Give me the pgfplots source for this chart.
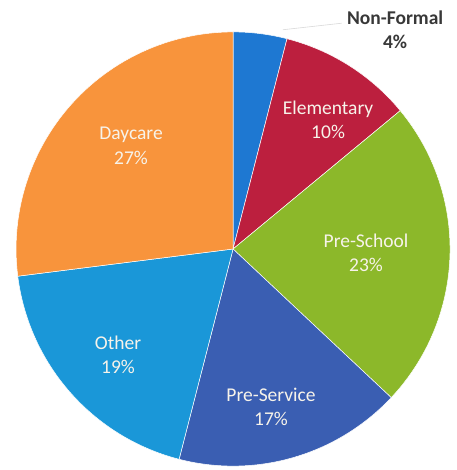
\documentclass[border=0pt]{standalone}
\usepackage{pgfplots}
\pgfplotsset{compat=1.18}
\usepackage{fontspec}
\setmainfont{Carlito}

\definecolor{cNonFormal}{HTML}{1E78D2}
\definecolor{cElementary}{HTML}{BC1F3E}
\definecolor{cPreSchool}{HTML}{8CB82A}
\definecolor{cPreService}{HTML}{3A5EB2}
\definecolor{cOther}{HTML}{1A97D8}
\definecolor{cDaycare}{HTML}{F8943C}
\definecolor{lbl}{HTML}{F7F3EA}

\begin{document}
\begin{tikzpicture}[
    lab/.style={font=\fontsize{19.5}{24.5}\selectfont, align=center, text=lbl},
]
\begin{axis}[
    hide axis,
    scale only axis,
    width=457pt, height=470pt,
    xmin=-1.074, xmax=1.032,
    ymin=-1.018, ymax=1.147,
    clip=false,
    samples=60,
    every axis plot/.append style={draw=white, line width=0.5pt},
]
\path (rel axis cs:0,0) rectangle (rel axis cs:1,1);
% slices, clockwise from the top; domain = cumulative percent
\addplot[fill=cNonFormal,  domain=0:4]   ({sin(3.6*x)},{cos(3.6*x)}) -- (axis cs:0,0) -- cycle;
\addplot[fill=cElementary, domain=4:14]  ({sin(3.6*x)},{cos(3.6*x)}) -- (axis cs:0,0) -- cycle;
\addplot[fill=cPreSchool,  domain=14:37] ({sin(3.6*x)},{cos(3.6*x)}) -- (axis cs:0,0) -- cycle;
\addplot[fill=cPreService, domain=37:54] ({sin(3.6*x)},{cos(3.6*x)}) -- (axis cs:0,0) -- cycle;
\addplot[fill=cOther,      domain=54:73] ({sin(3.6*x)},{cos(3.6*x)}) -- (axis cs:0,0) -- cycle;
\addplot[fill=cDaycare,    domain=73:100]({sin(3.6*x)},{cos(3.6*x)}) -- (axis cs:0,0) -- cycle;

\draw[black!15, line width=0.6pt] (axis cs:0.23,1.01) -- (axis cs:0.50,1.04);
\node[lab, text=black!78, font=\bfseries\fontsize{19.5}{24.5}\selectfont] at (axis cs:0.747,1.009) {Non-Formal\\4\%};
\node[lab] at (axis cs:0.438,0.594) {Elementary\\10\%};
\node[lab] at (axis cs:0.613,-0.018) {Pre-School\\23\%};
\node[lab] at (axis cs:0.175,-0.728) {Pre-Service\\17\%};
\node[lab] at (axis cs:-0.530,-0.488) {Other\\19\%};
\node[lab] at (axis cs:-0.470,0.475) {Daycare\\27\%};
\end{axis}
\end{tikzpicture}
\end{document}
